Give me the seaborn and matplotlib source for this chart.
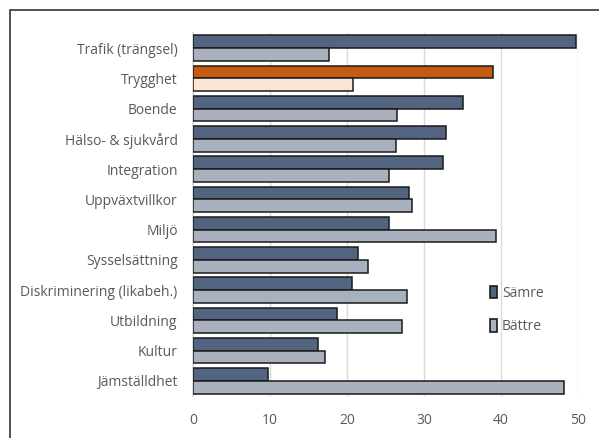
import seaborn as sns
import matplotlib.pyplot as plt
import pandas as pd
from matplotlib.patches import Rectangle

categories = ['Trafik (trängsel)', 'Trygghet', 'Boende', 'Hälso- & sjukvård', 'Integration',
              'Uppväxtvillkor', 'Miljö', 'Sysselsättning', 'Diskriminering (likabeh.)',
              'Utbildning', 'Kultur', 'Jämställdhet']
samre = [49.7, 38.9, 35.0, 32.8, 32.5, 28.0, 25.5, 21.4, 20.7, 18.7, 16.2, 9.8]
battre = [17.6, 20.8, 26.5, 26.3, 25.5, 28.5, 39.3, 22.7, 27.8, 27.2, 17.1, 48.2]
series = ['Sämre', 'Bättre']

df = pd.DataFrame({
    'kategori': categories * 2,
    'andel': samre + battre,
    'serie': [series[0]] * len(categories) + [series[1]] * len(categories),
})

sns.set_theme(style='white')
plt.rcParams['font.family'] = ['Open Sans', 'DejaVu Sans']
txt = '#595959'

fig = plt.figure(figsize=(5.99, 4.38), dpi=100)
ax = fig.add_axes([193 / 599, 1 - 396 / 438, 385 / 599, 363 / 438])

sns.barplot(data=df, y='kategori', x='andel', hue='serie', hue_order=series,
            order=categories, orient='h', width=0.84,
            palette=['#536480', '#A9B1BF'], edgecolor='#1a1a1a', linewidth=1.1,
            saturation=1, ax=ax, zorder=3)

# Trygghet markerad i orange
ax.containers[0][1].set_facecolor('#C55A11')
ax.containers[1][1].set_facecolor('#FBE5D6')

ax.set_xlim(0, 50)
ax.set_xticks([0, 10, 20, 30, 40, 50])
ax.xaxis.grid(True, color='#D9D9D9', lw=1, zorder=0)
ax.yaxis.grid(False)
for s in ['top', 'right', 'bottom']:
    ax.spines[s].set_visible(False)
ax.spines['left'].set_color('#D9D9D9')
ax.tick_params(axis='x', length=0, pad=12, labelsize=10, labelcolor=txt)
ax.tick_params(axis='y', length=0, pad=11, labelsize=10, labelcolor=txt)
for lab in ax.get_yticklabels():
    lab.set_y(lab.get_position()[1])
ax.set_xlabel('')
ax.set_ylabel('')

leg = ax.legend(loc='upper left', bbox_to_anchor=(477 / 599, 1 - 273 / 438),
                bbox_transform=fig.transFigure, frameon=False, fontsize=10,
                handlelength=0.55, handleheight=1.0, handletextpad=0.35,
                labelspacing=1.35)
for t in leg.get_texts():
    t.set_color(txt)
for h in leg.legend_handles:
    h.set_edgecolor('#1a1a1a')
    h.set_linewidth(1.2)

# ram runt diagrammet
fig.patches.append(Rectangle((10 / 599, -0.05), 1.0, 1 - 10 / 438 + 0.05,
                             transform=fig.transFigure, fill=False,
                             edgecolor='#333333', lw=1.2))

fig.savefig('out.png', dpi=100)
